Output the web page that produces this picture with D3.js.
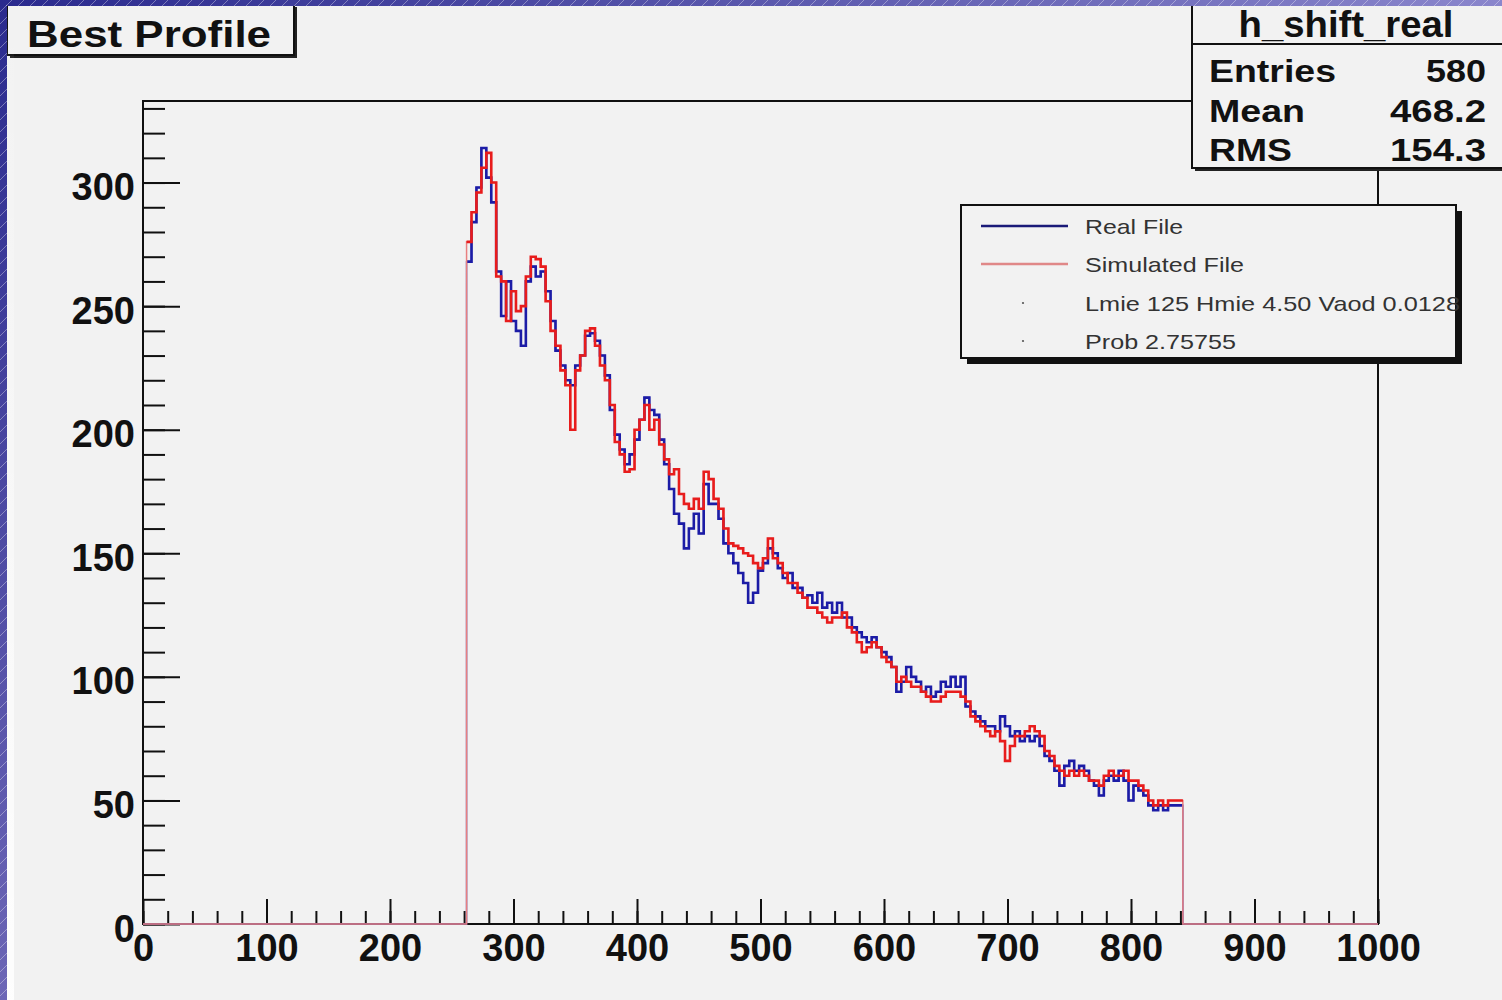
<!DOCTYPE html>
<html>
<head>
<meta charset="utf-8">
<script src="https://cdn.jsdelivr.net/npm/d3@7"></script>
<style>
  body { margin: 0; background: #f2f2f2; }
  svg { display: block; }
  text { font-family: "Liberation Sans", Arial, sans-serif; }
</style>
</head>
<body>
<svg id="chart" width="1502" height="1000"></svg>
<script>
// histogram binning (x units)
const histStart = 262;
const binWidth = 4;

const realCounts = [
  268, 284, 298, 314, 302, 292, 264, 246, 260, 244, 240, 234, 260, 266, 262, 264,
  256, 244, 232, 226, 220, 218, 226, 230, 238, 239, 236, 230, 222, 208, 198, 192,
  186, 190, 196, 204, 213, 208, 206, 196, 186, 176, 166, 162, 152, 160, 166, 158,
  178, 170, 170, 164, 154, 150, 146, 142, 138, 130, 134, 143, 146, 152, 150, 144,
  140, 142, 136, 136, 132, 133, 130, 134, 128, 130, 126, 130, 124, 124, 120, 118,
  116, 114, 116, 112, 110, 108, 104, 94, 98, 104, 100, 98, 94, 96, 92, 94,
  98, 96, 100, 96, 100, 88, 86, 84, 82, 80, 80, 78, 84, 80, 76, 78,
  74, 76, 74, 76, 72, 68, 66, 62, 56, 64, 66, 62, 64, 62, 58, 56,
  52, 58, 60, 58, 62, 58, 50, 56, 54, 52, 48, 46, 48, 46, 48, 48,
  48
];

const simCounts = [
  276, 288, 296, 306, 312, 300, 262, 260, 244, 256, 248, 250, 262, 270, 269, 266,
  252, 240, 234, 224, 218, 200, 224, 230, 240, 241, 234, 226, 220, 210, 195, 190,
  183, 184, 200, 204, 210, 200, 204, 194, 188, 182, 184, 174, 170, 168, 172, 168,
  183, 180, 172, 168, 160, 154, 153, 152, 150, 149, 146, 144, 148, 156, 148, 146,
  142, 138, 138, 134, 132, 128, 128, 126, 124, 122, 124, 124, 126, 120, 118, 114,
  110, 112, 114, 112, 108, 106, 104, 98, 100, 98, 96, 96, 94, 92, 90, 90,
  92, 94, 94, 94, 92, 90, 84, 82, 80, 78, 76, 78, 74, 66, 72, 76,
  76, 78, 80, 78, 76, 70, 68, 64, 62, 60, 62, 60, 62, 60, 58, 58,
  56, 60, 62, 60, 60, 62, 58, 58, 56, 54, 50, 48, 50, 48, 50, 50,
  50
];

const xTickValues = [0, 100, 200, 300, 400, 500, 600, 700, 800, 900, 1000];
const yTickValues = [0, 50, 100, 150, 200, 250, 300];

const chartTitle = "Best Profile";
const statsTitle = "h_shift_real";
const statsNames = ["Entries", "Mean", "RMS"];
const statsValues = ["580", "468.2", "154.3"];
const legendLabels = ["Real File", "Simulated File", "Lmie 125 Hmie 4.50 Vaod 0.0128", "Prob 2.75755"];

const svg = d3.select("#chart");
const W = 1502, H = 1000;

const x = d3.scaleLinear().domain([0, 1000]).range([143, 1378]);
const y = d3.scaleLinear().domain([0, 333]).range([924, 101]);

const blue = "#1c1ca6";
const red = "#e81c1c";

svg.append("rect").attr("width", W).attr("height", H).attr("fill", "#f2f2f2");

// frame
svg.append("rect")
  .attr("x", x(0)).attr("y", y.range()[1])
  .attr("width", x(1000) - x(0)).attr("height", y(0) - y.range()[1])
  .attr("fill", "none").attr("stroke", "#111").attr("stroke-width", 2);

// axes
const xMinor = d3.axisBottom(x).tickValues(d3.range(0, 1001, 20)).tickSizeInner(-13).tickSizeOuter(0).tickFormat("");
const xMajor = d3.axisBottom(x).tickValues(xTickValues).tickSizeInner(-25).tickSizeOuter(0).tickPadding(10).tickFormat(d3.format("d"));
const yMinor = d3.axisLeft(y).tickValues(d3.range(0, 331, 10)).tickSizeInner(-22).tickSizeOuter(0).tickFormat("");
const yMajor = d3.axisLeft(y).tickValues(yTickValues).tickSizeInner(-37).tickSizeOuter(0).tickPadding(8).tickFormat(d3.format("d"));

function styleAxis(g) {
  g.select(".domain").remove();
  g.selectAll(".tick line").attr("stroke", "#111").attr("stroke-width", 2);
  g.selectAll("text")
    .attr("fill", "#111")
    .style("font-size", "38px")
    .style("font-weight", "bold");
}

svg.append("g").attr("transform", `translate(0,${y(0)})`).call(xMinor).call(styleAxis);
svg.append("g").attr("transform", `translate(0,${y(0)})`).call(xMajor).call(styleAxis)
  .selectAll("text").attr("dy", "0.71em");
svg.append("g").attr("transform", `translate(${x(0)},0)`).call(yMinor).call(styleAxis);
svg.append("g").attr("transform", `translate(${x(0)},0)`).call(yMajor).call(styleAxis)
  .selectAll("text").attr("dy", "0.45em");

// histograms
const line = d3.line().x(d => x(d[0])).y(d => y(d[1]));

function stepPoints(counts) {
  const pts = [];
  counts.forEach((v, i) => {
    const lo = histStart + i * binWidth;
    pts.push([lo, v], [lo + binWidth, v]);
  });
  return pts;
}

function fullPoints(counts) {
  const end = histStart + counts.length * binWidth;
  return [[0, 0], [histStart, 0]].concat(stepPoints(counts), [[end, 0], [1000, 0]]);
}

[[realCounts, blue, "#4a4ab8"], [simCounts, red, "#e88080"]].forEach(([counts, col, pale]) => {
  svg.append("path")
    .attr("d", line(fullPoints(counts)))
    .attr("fill", "none").attr("stroke", pale).attr("stroke-width", 1.5);
  svg.append("path")
    .attr("d", line(stepPoints(counts)))
    .attr("fill", "none").attr("stroke", col).attr("stroke-width", 2.6)
    .attr("stroke-linejoin", "miter");
});

// title box
svg.append("rect").attr("x", 10).attr("y", 7).attr("width", 287).attr("height", 51).attr("fill", "#222");
svg.append("rect").attr("x", 7).attr("y", 4).attr("width", 287).attr("height", 51)
  .attr("fill", "#f2f2f2").attr("stroke", "#111").attr("stroke-width", 2);
svg.append("text").attr("x", 27).attr("y", 47).text(chartTitle)
  .attr("fill", "#111").style("font-size", "36px").style("font-weight", "bold")
  .attr("textLength", 244).attr("lengthAdjust", "spacingAndGlyphs");

// stats box
svg.append("rect").attr("x", 1195).attr("y", 7).attr("width", 320).attr("height", 164).attr("fill", "#222");
svg.append("rect").attr("x", 1192).attr("y", 4).attr("width", 320).attr("height", 164)
  .attr("fill", "#f2f2f2").attr("stroke", "#111").attr("stroke-width", 2);
svg.append("line").attr("x1", 1192).attr("x2", 1502).attr("y1", 44).attr("y2", 44)
  .attr("stroke", "#111").attr("stroke-width", 2);
svg.append("text").attr("x", 1346).attr("y", 37).attr("text-anchor", "middle").text(statsTitle)
  .attr("fill", "#111").style("font-size", "36px").style("font-weight", "bold")
  .attr("textLength", 215).attr("lengthAdjust", "spacingAndGlyphs");

const statRows = [82, 122, 161];
const nameWidths = [127, 96, 83];
const valueWidths = [60, 96, 96];
statsNames.forEach((n, i) => {
  svg.append("text").attr("x", 1209).attr("y", statRows[i]).text(n)
    .attr("fill", "#111").style("font-size", "32px").style("font-weight", "bold")
    .attr("textLength", nameWidths[i]).attr("lengthAdjust", "spacingAndGlyphs");
  svg.append("text").attr("x", 1486).attr("y", statRows[i]).attr("text-anchor", "end").text(statsValues[i])
    .attr("fill", "#111").style("font-size", "32px").style("font-weight", "bold")
    .attr("textLength", valueWidths[i]).attr("lengthAdjust", "spacingAndGlyphs");
});

// legend
svg.append("rect").attr("x", 967).attr("y", 211).attr("width", 495).attr("height", 153).attr("fill", "#111");
svg.append("rect").attr("x", 961).attr("y", 205).attr("width", 495).attr("height", 153)
  .attr("fill", "#f2f2f2").attr("stroke", "#111").attr("stroke-width", 2);

const legRows = [226, 264, 303, 341];
const legWidths = [98, 159, 375, 151];
svg.append("line").attr("x1", 981).attr("x2", 1068).attr("y1", legRows[0]).attr("y2", legRows[0])
  .attr("stroke", "#1a1a78").attr("stroke-width", 2.5);
svg.append("line").attr("x1", 981).attr("x2", 1068).attr("y1", legRows[1]).attr("y2", legRows[1])
  .attr("stroke", "#e08888").attr("stroke-width", 2.5);
[2, 3].forEach(i => {
  svg.append("circle").attr("cx", 1023).attr("cy", legRows[i]).attr("r", 1.1).attr("fill", "#555");
});
legendLabels.forEach((t, i) => {
  svg.append("text").attr("x", 1085).attr("y", legRows[i] + 8).text(t)
    .attr("fill", "#333").style("font-size", "21px")
    .attr("textLength", legWidths[i]).attr("lengthAdjust", "spacingAndGlyphs");
});

// slide border strips
const defs = svg.append("defs");
const gLeft = defs.append("linearGradient").attr("id", "gLeft").attr("x1", 0).attr("y1", 0).attr("x2", 0).attr("y2", 1);
gLeft.append("stop").attr("offset", "0%").attr("stop-color", "#2a2a8e");
gLeft.append("stop").attr("offset", "100%").attr("stop-color", "#6c66b6");
const gTop = defs.append("linearGradient").attr("id", "gTop").attr("x1", 0).attr("y1", 0).attr("x2", 1).attr("y2", 0);
gTop.append("stop").attr("offset", "0%").attr("stop-color", "#2a2a8e");
gTop.append("stop").attr("offset", "100%").attr("stop-color", "#8a86cc");
const gWhite = defs.append("linearGradient").attr("id", "gWhite").attr("x1", 0).attr("y1", 0).attr("x2", 0).attr("y2", 1);
gWhite.append("stop").attr("offset", "0%").attr("stop-color", "#fff").attr("stop-opacity", 0);
gWhite.append("stop").attr("offset", "100%").attr("stop-color", "#fff").attr("stop-opacity", 0.9);
const hatch = defs.append("pattern").attr("id", "hatch").attr("width", 12).attr("height", 12)
  .attr("patternUnits", "userSpaceOnUse");
hatch.append("path").attr("d", "M0,12 L12,0").attr("stroke", "#fff").attr("stroke-opacity", 0.35).attr("stroke-width", 1);

svg.append("rect").attr("x", 7).attr("y", 6).attr("width", 7).attr("height", H - 6).attr("fill", "url(#gWhite)");
svg.append("rect").attr("x", 0).attr("y", 0).attr("width", 7).attr("height", H).attr("fill", "url(#gLeft)");
svg.append("rect").attr("x", 0).attr("y", 0).attr("width", W).attr("height", 6).attr("fill", "url(#gTop)");
svg.append("rect").attr("x", 0).attr("y", 0).attr("width", 7).attr("height", H).attr("fill", "url(#hatch)");
svg.append("rect").attr("x", 0).attr("y", 0).attr("width", W).attr("height", 6).attr("fill", "url(#hatch)");
</script>
</body>
</html>
